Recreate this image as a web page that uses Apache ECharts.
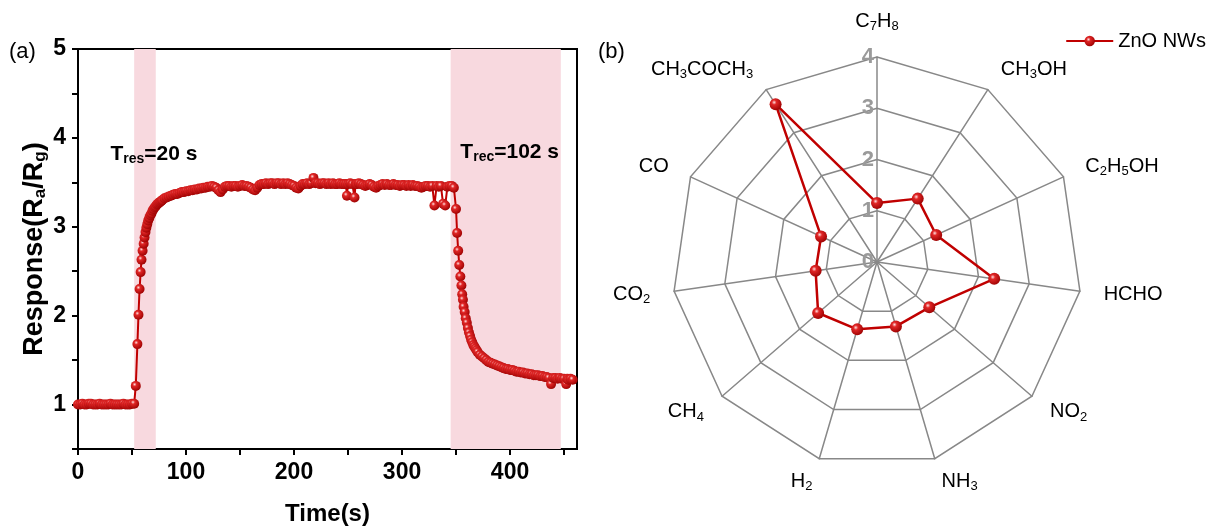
<!DOCTYPE html>
<html><head><meta charset="utf-8">
<script src="https://cdn.jsdelivr.net/npm/echarts@6/dist/echarts.min.js"></script>
<style>html,body{margin:0;padding:0;background:#fff}#c{width:1213px;height:531px}</style>
</head><body><div id="c"></div>
<script>
// ---- Panel (a): dynamic response ----
const timeS = [0,2,4,6,8,10,12,14,16,18,20,22,24,26,28,30,32,34,36,38,40,42,44,46,48,50,52,
53.5,55,56,57,58,58.8,59.8,60.8,61.6,62.5,63.3,64.2,65,66,67,68,69,70,71,72,73,74,75,76,77,78,
80,82,84,86,88,90,92,94,96,98,100,102,104,106,108,110,112,114,116,118,120,122,124,126,128,130,
132,134,136,138,140,142,144,146,148,150,152,154,156,158,160,162,164,166,168,170,172,174,176,178,
180,182,184,186,188,190,192,194,196,198,200,202,204,206,208,210,212,214,216,218,220,222,224,226,
228,230,232,234,236,238,240,242,244,246,248,249,250,252,254,256,257,258,260,262,264,266,268,270,
272,274,276,278,280,282,284,286,288,290,292,294,296,298,300,302,304,306,308,310,312,314,316,318,
320,322,324,326,328,330,332,334,336,338,340,342,344,346,348,350,351,352,353,354,355,355.7,356.4,
357,358,359,360,361,362,363,364,365,366,367,368,369,370,372,374,376,378,380,382,384,386,388,390,
392,394,396,398,400,402,404,406,408,410,412,414,416,418,420,422,424,426,428,430,432,434,436,438,
440,442,444,446,448,450,452,453,454,456,458,460];
const response = [1.00,1.00,1.01,1.00,1.00,1.01,1.01,1.00,1.00,1.00,1.01,1.00,1.00,1.00,1.00,1.01,1.00,1.00,1.00,1.00,1.00,1.01,1.00,1.00,1.00,1.01,1.01,
1.21,1.68,2.01,2.30,2.49,2.63,2.73,2.81,2.88,2.94,2.99,3.03,3.07,3.10,3.13,3.15,3.18,3.20,3.22,3.23,3.25,3.26,3.27,3.28,3.29,3.30,
3.32,3.33,3.34,3.35,3.36,3.37,3.37,3.38,3.39,3.39,3.40,3.40,3.41,3.41,3.42,3.42,3.43,3.43,3.44,3.44,3.45,3.45,3.46,3.45,3.44,3.41,
3.39,3.42,3.45,3.46,3.46,3.45,3.46,3.46,3.45,3.46,3.47,3.46,3.46,3.45,3.44,3.42,3.41,3.44,3.47,3.48,3.48,3.49,3.48,3.49,
3.49,3.48,3.49,3.49,3.48,3.49,3.48,3.49,3.48,3.47,3.46,3.44,3.43,3.46,3.48,3.48,3.49,3.48,3.49,3.55,3.49,3.49,3.48,3.49,
3.49,3.48,3.49,3.48,3.49,3.48,3.48,3.49,3.48,3.48,3.48,3.35,3.48,3.49,3.48,3.33,3.48,3.48,3.49,3.48,3.47,3.46,3.47,3.48,
3.47,3.45,3.44,3.46,3.47,3.48,3.47,3.48,3.47,3.47,3.48,3.47,3.47,3.46,3.47,3.47,3.46,3.47,3.46,3.47,3.46,3.46,3.45,3.44,
3.45,3.46,3.46,3.45,3.46,3.24,3.46,3.45,3.46,3.26,3.24,3.45,3.46,3.46,3.44,3.20,2.93,2.73,2.57,2.44,2.34,2.24,2.18,
2.10,2.04,1.97,1.92,1.86,1.81,1.77,1.73,1.70,1.67,1.65,1.63,1.61,1.59,1.56,1.54,1.52,1.50,1.48,1.47,1.46,1.45,1.44,
1.43,1.42,1.41,1.40,1.40,1.39,1.39,1.38,1.37,1.37,1.36,1.36,1.35,1.35,1.34,1.34,1.33,1.33,1.33,1.32,1.32,1.31,1.31,1.30,
1.23,1.30,1.30,1.29,1.30,1.29,1.29,1.23,1.29,1.28,1.29,1.28];
const shadeRanges = [[52, 72], [345, 447]];
const xTickLabels = [0, 100, 200, 300, 400];
const yTickLabels = [1, 2, 3, 4, 5];
const annotations = [
  {x: 30, y: 3.82, text: 'T{sub|res}=20 s'},
  {x: 354, y: 3.84, text: 'T{sub|rec}=102 s'}
];

// ---- Panel (b): selectivity radar (counter-clockwise from top) ----
const gases = ['C7H8','CH3COCH3','CO','CO2','CH4','H2','NH3','NO2','HCHO','C2H5OH','CH3OH'];
const gasResponse = [1.15,3.66,1.20,1.21,1.52,1.37,1.31,1.35,2.31,1.27,1.47];
const radarMax = 4;
const seriesName = 'ZnO NWs';

const RED = '#c00000';
const ball = {type:'radial', x:0.38, y:0.35, r:0.7, colorStops:[
  {offset:0, color:'#ffe0e0'},{offset:0.28, color:'#e02626'},{offset:1, color:'#9a0000'}]};
const FONT = 'Liberation Sans, Arial, sans-serif';
const subify = s => s.replace(/(\d+)/g, '{sub|$1}');
const radarLabel = {show: true, color: '#9a9a9a', fontSize: 22, fontWeight: 'bold', margin: 3, fontFamily: FONT,
  textStyle: {fontSize: 22, fontWeight: 'bold'}};

const chart = echarts.init(document.getElementById('c'));
chart.setOption({
  animation: false,
  textStyle: {fontFamily: FONT},
  title: [
    {text: '(a)', left: 4, top: 36, textStyle: {fontSize: 22, fontWeight: 'normal', color: '#000', fontFamily: FONT}},
    {text: '(b)', left: 593, top: 36, textStyle: {fontSize: 22, fontWeight: 'normal', color: '#000', fontFamily: FONT}}
  ],
  legend: {
    data: [seriesName], right: 2, top: 26, itemWidth: 47, itemHeight: 13, itemGap: 6,
    textStyle: {fontSize: 20, color: '#000', fontFamily: FONT}
  },
  grid: {left: 78, right: 636, top: 49, bottom: 79, show: true, borderColor: '#000', borderWidth: 2, backgroundColor: 'transparent'},
  xAxis: {
    type: 'value', min: 0, max: 462, interval: 50,
    name: 'Time(s)', nameLocation: 'middle', nameGap: 53,
    nameTextStyle: {fontSize: 24, fontWeight: 'bold', color: '#000', fontFamily: FONT},
    axisLine: {lineStyle: {color: '#000', width: 2}},
    axisTick: {lineStyle: {color: '#000', width: 2}, length: 6},
    axisLabel: {fontSize: 23, fontWeight: 'bold', color: '#000', margin: 12, showMaxLabel: false,
      formatter: v => xTickLabels.includes(v) ? String(v) : ''},
    splitLine: {show: false}
  },
  yAxis: {
    type: 'value', min: 0.5, max: 5, interval: 0.5,
    name: 'Response(R{sub|a}/R{sub|g})', nameLocation: 'middle', nameGap: 29, nameRotate: 90,
    nameTextStyle: {fontSize: 27, fontWeight: 'bold', color: '#000', fontFamily: FONT,
      rich: {sub: {fontSize: 17, fontWeight: 'bold', padding: [12, 0, 0, 0], fontFamily: FONT}}},
    axisLine: {lineStyle: {color: '#000', width: 2}},
    axisTick: {lineStyle: {color: '#000', width: 2}, length: 6},
    axisLabel: {fontSize: 23, fontWeight: 'bold', color: '#000', margin: 12,
      formatter: v => yTickLabels.includes(v) ? String(v) : ''},
    splitLine: {show: false}
  },
  radar: {
    center: [877, 262], radius: 205, startAngle: 90, splitNumber: 4, shape: 'polygon',
    indicator: gases.map((g, i) => i === 0
      ? {name: g, min: 0, max: radarMax, axisLabel: radarLabel}
      : {name: g, min: 0, max: radarMax}),
    nameGap: 24,
    axisName: {color: '#000', fontSize: 20, fontFamily: FONT, formatter: n => subify(n),
      rich: {sub: {fontSize: 13, padding: [10, 0, 0, 0], fontFamily: FONT, color: '#000'}}},
    axisLine: {lineStyle: {color: '#888', width: 1.5}},
    splitLine: {lineStyle: {color: '#888', width: 1.5}},
    splitArea: {show: false},
    axisTick: {show: false},
    axisLabel: {show: false, color: '#9a9a9a', fontSize: 22, fontWeight: 'bold', margin: 3, fontFamily: FONT}
  },
  series: [
    {
      name: seriesName, type: 'line', data: timeS.map((t, i) => [t, response[i]]),
      symbol: 'circle', symbolSize: 10, showSymbol: true, z: 3,
      lineStyle: {color: RED, width: 2}, itemStyle: {color: ball, borderWidth: 0},
      markArea: {silent: true, itemStyle: {color: '#f8d9df'},
        data: shadeRanges.map(r => [{xAxis: r[0]}, {xAxis: r[1]}])},
      markPoint: {silent: true, symbol: 'circle', symbolSize: 0,
        data: annotations.map(a => ({coord: [a.x, a.y], value: a.text})),
        label: {show: true, position: 'right', distance: 0, color: '#000', fontSize: 21, fontWeight: 'bold', fontFamily: FONT,
          formatter: p => p.value,
          rich: {sub: {fontSize: 14, fontWeight: 'bold', padding: [10, 0, 0, 0], fontFamily: FONT, color: '#000'}}}}
    },
    {
      name: seriesName, type: 'radar', symbol: 'circle', symbolSize: 12,
      lineStyle: {color: RED, width: 2.5}, itemStyle: {color: ball},
      data: [{value: gasResponse, name: seriesName}]
    }
  ]
});
</script></body></html>
